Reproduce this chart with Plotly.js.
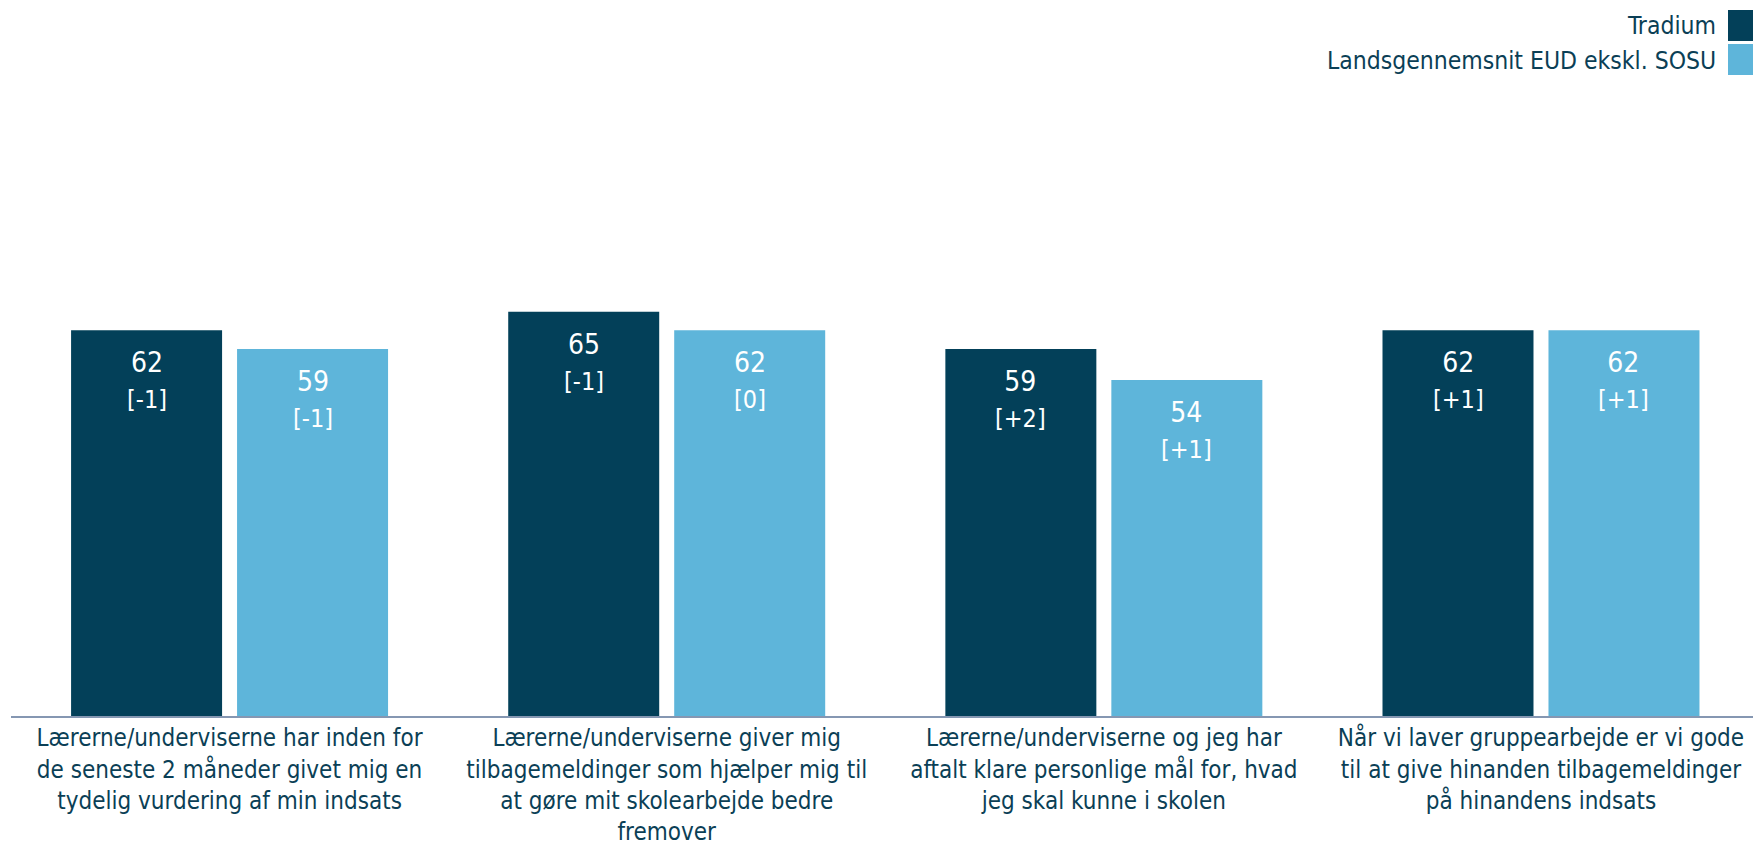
<!DOCTYPE html>
<html>
<head>
<meta charset="utf-8">
<script src="https://cdn.plot.ly/plotly-3.0.1.min.js"></script>
<style>
  html, body { margin: 0; padding: 0; overflow: hidden; background: #ffffff; }
  #chart { width: 1753px; height: 846px; }
</style>
</head>
<body>
<div id="chart"></div>
<script>
const categories = [
  "Lærerne/underviserne har inden for<br>de seneste 2 måneder givet mig en<br>tydelig vurdering af min indsats",
  "Lærerne/underviserne giver mig<br>tilbagemeldinger som hjælper mig til<br>at gøre mit skolearbejde bedre<br>fremover",
  "Lærerne/underviserne og jeg har<br>aftalt klare personlige mål for, hvad<br>jeg skal kunne i skolen",
  "Når vi laver gruppearbejde er vi gode<br>til at give hinanden tilbagemeldinger<br>på hinandens indsats"
];
const seriesNames = ["Tradium", "Landsgennemsnit EUD ekskl. SOSU"];
const tradiumValues = [62, 65, 59, 62];
const tradiumChanges = ["-1", "-1", "+2", "+1"];
const landsValues = [59, 62, 54, 62];
const landsChanges = ["-1", "0", "+1", "+1"];

const FONT = "'DejaVu Sans Condensed', 'DejaVu Sans', sans-serif";
const DARK = "#034059";
const LIGHT = "#5EB5DA";
const TEXTCOL = "#0B3F56";
const BARGAP = 0.2406;
const BARGROUPGAP = 0.0903;

function label(v, c) {
  return v + '<br><span style="font-size:25px">[' + c + ']</span>';
}

const traces = [
  {
    type: 'bar', name: seriesNames[0], x: categories, y: tradiumValues,
    marker: { color: DARK }, hoverinfo: 'skip', showlegend: false
  },
  {
    type: 'bar', name: seriesNames[1], x: categories, y: landsValues,
    marker: { color: LIGHT }, hoverinfo: 'skip', showlegend: false
  }
];

// value labels anchored to each bar's top through the axis scales
const slotHalf = (1 - BARGAP) / 4;
const valueAnnotations = [];
[[tradiumValues, tradiumChanges, -1], [landsValues, landsChanges, 1]].forEach(([vals, chg, side]) => {
  vals.forEach((v, i) => {
    valueAnnotations.push({
      xref: 'x', yref: 'y', x: i + side * slotHalf, y: v,
      xanchor: 'center', yanchor: 'top', yshift: -14,
      text: label(v, chg[i]), showarrow: false, align: 'center',
      font: { family: FONT, size: 28, color: '#ffffff' }
    });
  });
});

const layout = {
  width: 1753, height: 846,
  margin: { l: 11, r: 0, t: 94, b: 130, pad: 0 },
  paper_bgcolor: '#ffffff', plot_bgcolor: '#ffffff',
  barmode: 'group', bargap: BARGAP, bargroupgap: BARGROUPGAP,
  font: { family: FONT, color: TEXTCOL },
  xaxis: {
    type: 'category', range: [-0.5, 3.485],
    showline: true, linecolor: '#8597B2', linewidth: 1.5,
    ticks: '', showgrid: false, zeroline: false,
    tickfont: { family: FONT, size: 24, color: TEXTCOL },
    automargin: false
  },
  yaxis: {
    range: [0, 100], visible: false, showgrid: false, zeroline: false, fixedrange: true
  },
  showlegend: false,
  annotations: valueAnnotations.concat([
    { xref: 'paper', yref: 'paper', x: 1, y: 1, xanchor: 'right', yanchor: 'middle',
      xshift: -35, yshift: 69, text: seriesNames[0], showarrow: false,
      font: { family: FONT, size: 24.5, color: TEXTCOL } },
    { xref: 'paper', yref: 'paper', x: 1, y: 1, xanchor: 'right', yanchor: 'middle',
      xshift: -35, yshift: 34, text: seriesNames[1], showarrow: false,
      font: { family: FONT, size: 24.5, color: TEXTCOL } }
  ]),
  shapes: [
    { type: 'rect', xref: 'paper', yref: 'paper', xsizemode: 'pixel', ysizemode: 'pixel',
      xanchor: 1, yanchor: 1, x0: -25, x1: 0, y0: 53, y1: 84,
      fillcolor: DARK, line: { width: 0 } },
    { type: 'rect', xref: 'paper', yref: 'paper', xsizemode: 'pixel', ysizemode: 'pixel',
      xanchor: 1, yanchor: 1, x0: -25, x1: 0, y0: 19, y1: 50,
      fillcolor: LIGHT, line: { width: 0 } }
  ]
};

Plotly.newPlot('chart', traces, layout, { displayModeBar: false, staticPlot: true });
</script>
</body>
</html>
